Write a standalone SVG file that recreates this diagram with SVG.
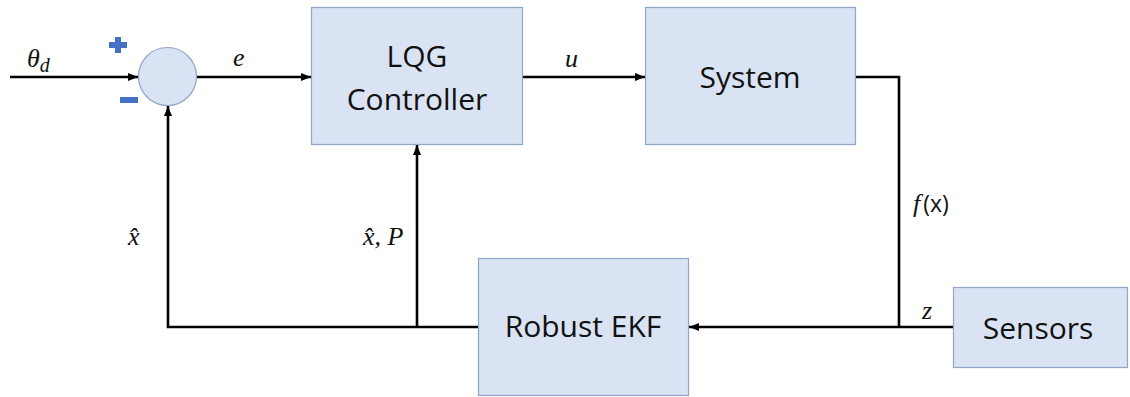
<svg xmlns="http://www.w3.org/2000/svg" width="1130" height="397" viewBox="0 0 1130 397">
<style>
.box{fill:#DAE3F3;stroke:#8FA6C6;stroke-width:1.2}
.lbl{font-family:"Open Sans","Liberation Sans",sans-serif;font-size:30px;fill:#111;text-anchor:middle}
.math{font-family:"Liberation Serif",serif;font-style:italic;font-size:26px;fill:#111}
.sans{font-family:"Open Sans","Liberation Sans",sans-serif;font-style:normal}
.wire{fill:none;stroke:#000;stroke-width:2.6}
.sign{fill:#4472C4}
</style>
<defs>
<marker id="arr" markerUnits="userSpaceOnUse" markerWidth="10" markerHeight="8" refX="10" refY="4" orient="auto">
<path d="M0,0 L10,4 L0,8 z" fill="#000"/>
</marker>
</defs>
<rect width="1130" height="397" fill="#fff"/>
<g id="connectors">
<line class="wire" x1="10" y1="77" x2="138" y2="77" marker-end="url(#arr)"/>
<line class="wire" x1="197" y1="77" x2="311" y2="77" marker-end="url(#arr)"/>
<line class="wire" x1="523" y1="77" x2="645" y2="77" marker-end="url(#arr)"/>
<polyline class="wire" points="856,77 899,77 899,327"/>
<line class="wire" x1="953" y1="327" x2="689" y2="327" marker-end="url(#arr)"/>
<polyline class="wire" points="478,327 168,327 168,106" marker-end="url(#arr)"/>
<line class="wire" x1="417" y1="327" x2="417" y2="145" marker-end="url(#arr)"/>
<text class="math" x="27" y="67" font-size="28">θ<tspan font-size="20" dy="5">d</tspan></text>
<text class="math" x="233" y="66">e</text>
<text class="math" x="565" y="67">u</text>
<text class="math" x="913" y="212">f<tspan class="sans" font-size="23" dx="3">(x)</tspan></text>
<text class="math" x="922" y="319">z</text>
<text class="math" x="128" y="245">x̂</text>
<text class="math" x="363" y="245">x̂, P</text>
</g>
<g id="sum">
<circle cx="167.5" cy="76.5" r="29" class="box"/>
<rect class="sign" x="109" y="42" width="18" height="6"/>
<rect class="sign" x="115" y="37" width="6" height="16"/>
<rect class="sign" x="120" y="97" width="18" height="6"/>
</g>
<g id="lqg">
<rect class="box" x="311.5" y="7.5" width="211" height="137"/>
<text class="lbl" x="417" y="67">LQG</text>
<text class="lbl" x="417" y="110">Controller</text>
</g>
<g id="system">
<rect class="box" x="645.5" y="7.5" width="210" height="137"/>
<text class="lbl" x="750" y="88">System</text>
</g>
<g id="ekf">
<rect class="box" x="478.5" y="258.5" width="210" height="137"/>
<text class="lbl" x="583" y="337">Robust EKF</text>
</g>
<g id="sensors">
<rect class="box" x="953.5" y="287.5" width="174" height="80"/>
<text class="lbl" x="1038" y="339">Sensors</text>
</g>
</svg>
